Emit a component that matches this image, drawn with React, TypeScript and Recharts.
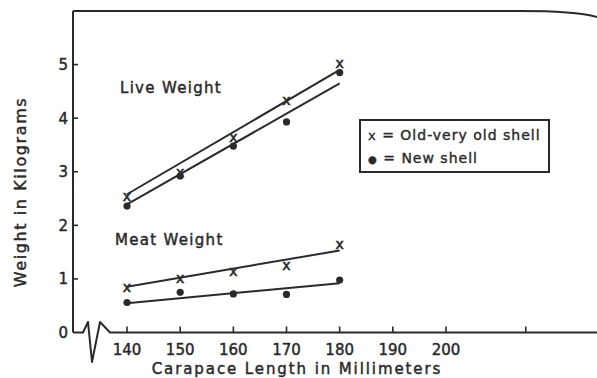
import React from 'react';
import { ComposedChart, Line, Scatter, XAxis, YAxis, Legend, Customized } from 'recharts';

// carapace length (mm) where the samples were taken
const lengths = [140, 150, 160, 170, 180];
// weights in kg
const liveOld = [2.53, 2.98, 3.63, 4.32, 5.01];
const liveNew = [2.36, 2.92, 3.48, 3.93, 4.85];
const meatOld = [0.82, 1.0, 1.12, 1.24, 1.62];
const meatNew = [0.56, 0.75, 0.72, 0.71, 0.98];

// fitted lines, end points at 140 and 180 mm
const fitEnds = [140, 180];
const liveOldFit = [2.58, 4.9];
const liveNewFit = [2.39, 4.65];
const meatOldFit = [0.855, 1.53];
const meatNewFit = [0.545, 0.92];

const xTicks = [140, 150, 160, 170, 180, 190, 200, 215];
const xLabelled = [140, 150, 160, 170, 180, 190, 200];
const yTicks = [0, 1, 2, 3, 4, 5];

const legendItems = [
  { mark: 'x', label: 'Old-very old shell' },
  { mark: '\u25CF', label: 'New shell' },
];

const INK = '#2a2a2a';
const FONT = '"DejaVu Sans", sans-serif';
// the hand lettering is a bit heavier than the font, so stroke it lightly
const heavy = { stroke: INK, strokeWidth: 0.45 };

const pts = (xs: number[], ys: number[]) => xs.map((x, i) => ({ x, y: ys[i] }));

const XTick = ({ x, y, payload }: any) => (
  <g>
    <line x1={x} x2={x} y1={y} y2={y - 6} stroke={INK} strokeWidth={1.6} />
    {xLabelled.includes(payload.value) && (
      <text x={x} y={y + 22.5} textAnchor="middle" fontSize={15} fontFamily={FONT} fill={INK} {...heavy}>
        {payload.value}
      </text>
    )}
  </g>
);

const YTick = ({ x, y, payload }: any) => (
  <g>
    {payload.value > 0 && <line x1={x} x2={x + 5} y1={y} y2={y} stroke={INK} strokeWidth={1.6} />}
    <text x={x - 5} y={y + 5.5} textAnchor="end" fontSize={15} fontFamily={FONT} fill={INK} {...heavy}>
      {payload.value}
    </text>
  </g>
);

const Cross = ({ cx, cy }: any) => (
  <text x={cx} y={cy + 3.8} textAnchor="middle" fontSize={14} fontFamily={FONT} fill={INK} stroke={INK} strokeWidth={0.6}>
    x
  </text>
);

const Dot = ({ cx, cy }: any) => <circle cx={cx} cy={cy} r={3.6} fill={INK} />;

// axis frame with the broken x axis, plus the free text of the figure
const Frame = () => (
  <g>
    <path d="M73,11 H520 Q575,11 597,17" fill="none" stroke={INK} strokeWidth={2} />
    <path
      d="M73,332.5 H83 L88,322 L92,362 L100,322 L110,332.5 H597"
      fill="none"
      stroke={INK}
      strokeWidth={2}
      strokeLinejoin="round"
    />
    <text x={120} y={93} fontSize={15} fontFamily={FONT} fill={INK} letterSpacing={1.3} {...heavy}>
      Live Weight
    </text>
    <text x={115} y={245} fontSize={15} fontFamily={FONT} fill={INK} letterSpacing={1.3} {...heavy}>
      Meat Weight
    </text>
    <text x={297} y={373.5} textAnchor="middle" fontSize={15} fontFamily={FONT} fill={INK} letterSpacing={1.9} {...heavy}>
      Carapace Length in Millimeters
    </text>
    <text
      x={26}
      y={192}
      textAnchor="middle"
      fontSize={16}
      fontFamily={FONT}
      fill={INK}
      letterSpacing={1.6}
      transform="rotate(-90, 26, 192)"
      {...heavy}
    >
      Weight in Kilograms
    </text>
  </g>
);

const LegendBox = () => (
  <div
    style={{
      boxSizing: 'border-box',
      width: 191,
      height: 54,
      border: `2px solid ${INK}`,
      padding: '2.5px 0 0 7px',
      fontFamily: FONT,
      fontSize: 14,
      lineHeight: '23px',
      letterSpacing: 1,
      color: INK,
      background: '#fff',
      whiteSpace: 'nowrap',
      WebkitTextStroke: `0.4px ${INK}`,
    }}
  >
    {legendItems.map((it) => (
      <div key={it.label}>
        <span style={{ fontSize: it.mark === 'x' ? 13 : 10 }}>{it.mark}</span>
        {' = '}
        {it.label}
      </div>
    ))}
  </div>
);

export default function App() {
  return (
    <div style={{ position: 'absolute', left: 0, top: 0, background: '#fff' }}>
      <ComposedChart width={597} height={378} margin={{ top: 11, right: 0, bottom: 0.5, left: 0 }}>
        <XAxis
          type="number"
          dataKey="x"
          domain={[129.84, 228.4]}
          ticks={xTicks}
          interval={0}
          height={45}
          axisLine={false}
          tickLine={false}
          tickSize={0}
          tickMargin={0}
          tick={<XTick />}
          allowDataOverflow
        />
        <YAxis
          type="number"
          dataKey="y"
          domain={[0, 6]}
          ticks={yTicks}
          interval={0}
          width={73}
          axisLine={{ stroke: INK, strokeWidth: 2 }}
          tickLine={false}
          tickSize={0}
          tickMargin={0}
          tick={<YTick />}
        />
        <Customized component={Frame} />
        <Line data={pts(fitEnds, liveOldFit)} dataKey="y" type="linear" stroke={INK} strokeWidth={2} dot={false} isAnimationActive={false} legendType="none" />
        <Line data={pts(fitEnds, liveNewFit)} dataKey="y" type="linear" stroke={INK} strokeWidth={2} dot={false} isAnimationActive={false} legendType="none" />
        <Line data={pts(fitEnds, meatOldFit)} dataKey="y" type="linear" stroke={INK} strokeWidth={2} dot={false} isAnimationActive={false} legendType="none" />
        <Line data={pts(fitEnds, meatNewFit)} dataKey="y" type="linear" stroke={INK} strokeWidth={2} dot={false} isAnimationActive={false} legendType="none" />
        <Scatter name="Live, old shell" data={pts(lengths, liveOld)} shape={<Cross />} isAnimationActive={false} />
        <Scatter name="Live, new shell" data={pts(lengths, liveNew)} shape={<Dot />} isAnimationActive={false} />
        <Scatter name="Meat, old shell" data={pts(lengths, meatOld)} shape={<Cross />} isAnimationActive={false} />
        <Scatter name="Meat, new shell" data={pts(lengths, meatNew)} shape={<Dot />} isAnimationActive={false} />
        <Legend
          layout="horizontal"
          verticalAlign="middle"
          align="center"
          content={<LegendBox />}
          wrapperStyle={{ left: 359, top: 119, width: 191, height: 54 }}
        />
      </ComposedChart>
    </div>
  );
}
